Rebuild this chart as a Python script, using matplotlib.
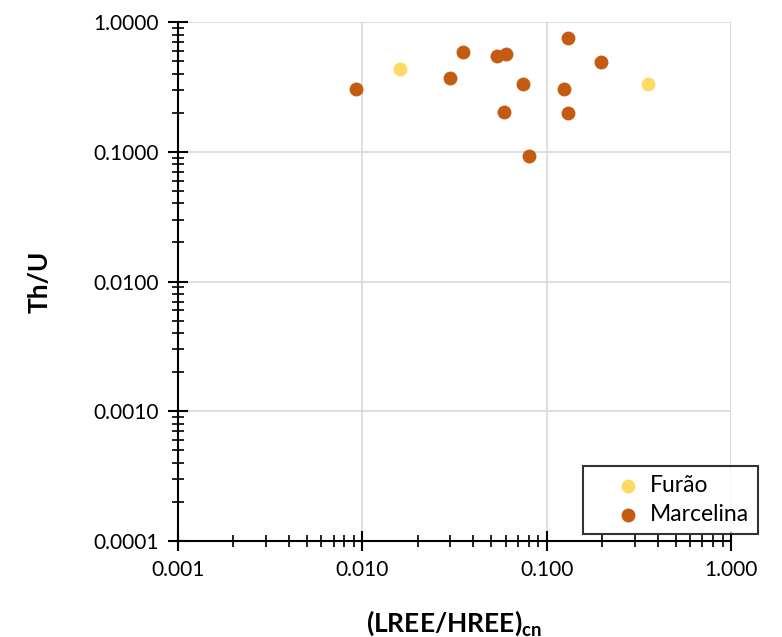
import matplotlib.pyplot as plt
import matplotlib.ticker as mticker
import numpy as np

plt.rcParams['font.family'] = ['Lato', 'DejaVu Sans']
plt.rcParams['mathtext.fontset'] = 'custom'
plt.rcParams['mathtext.rm'] = 'Lato'
plt.rcParams['mathtext.bf'] = 'Lato:bold'

# values
furao_x = [0.0160, 0.353]
furao_y = [0.433, 0.334]

marcelina_x = [0.00926, 0.0351, 0.0299, 0.0541, 0.0604, 0.0747, 0.0590, 0.0798,
               0.130, 0.124, 0.131, 0.198]
marcelina_y = [0.303, 0.590, 0.367, 0.549, 0.562, 0.334, 0.201, 0.0925,
               0.748, 0.303, 0.198, 0.488]

fig = plt.figure(figsize=(7.82, 6.37), dpi=100)
ax = fig.add_axes([178/782, 1-541/637, (731-178)/782, (541-22)/637])

ax.scatter(furao_x, furao_y, s=100, color='#FFD966', label='Furão', zorder=3, linewidths=0)
ax.scatter(marcelina_x, marcelina_y, s=100, color='#C55A11', label='Marcelina', zorder=3, linewidths=0)

ax.set_xscale('log')
ax.set_yscale('log')
ax.set_xlim(0.001, 1)
ax.set_ylim(0.0001, 1)

ax.xaxis.set_major_locator(mticker.LogLocator(base=10))
ax.yaxis.set_major_locator(mticker.LogLocator(base=10))
ax.xaxis.set_minor_locator(mticker.LogLocator(base=10, subs=np.arange(2, 10)))
ax.yaxis.set_minor_locator(mticker.LogLocator(base=10, subs=np.arange(2, 10)))
ax.xaxis.set_major_formatter(mticker.FormatStrFormatter('%.3f'))
ax.yaxis.set_major_formatter(mticker.FormatStrFormatter('%.4f'))
ax.xaxis.set_minor_formatter(mticker.NullFormatter())
ax.yaxis.set_minor_formatter(mticker.NullFormatter())

ax.grid(True, which='major', color='#D9D9D9', linewidth=1.2)
ax.set_axisbelow(True)
ax.spines['top'].set_visible(False)
ax.spines['right'].set_visible(False)
ax.spines['left'].set_linewidth(1.5)
ax.spines['bottom'].set_linewidth(1.5)
ax.axhline(1, color='#D9D9D9', linewidth=1.2, zorder=0)
ax.axvline(1, color='#D9D9D9', linewidth=1.2, zorder=0)

ax.tick_params(which='major', direction='inout', length=14, width=1.5, labelsize=15, pad=7)
ax.tick_params(which='minor', direction='inout', length=9, width=1.2)

ax.set_xlabel(r'(LREE/HREE)$_{\mathbf{cn}}$', fontsize=19, fontweight='bold', labelpad=20)
ax.set_ylabel('Th/U', fontsize=19, fontweight='bold', labelpad=30)

leg = ax.legend(loc='lower right', bbox_to_anchor=(758/782, 1-534/637),
                bbox_transform=fig.transFigure, fontsize=16.5, frameon=True,
                fancybox=False, edgecolor='black', handletextpad=-0.6,
                borderpad=0.4, labelspacing=0.35, borderaxespad=0,
                handlelength=3.1, markerscale=1.0)
leg.get_frame().set_linewidth(1.5)
leg.set_zorder(5)

fig.savefig('out.png', dpi=100)
